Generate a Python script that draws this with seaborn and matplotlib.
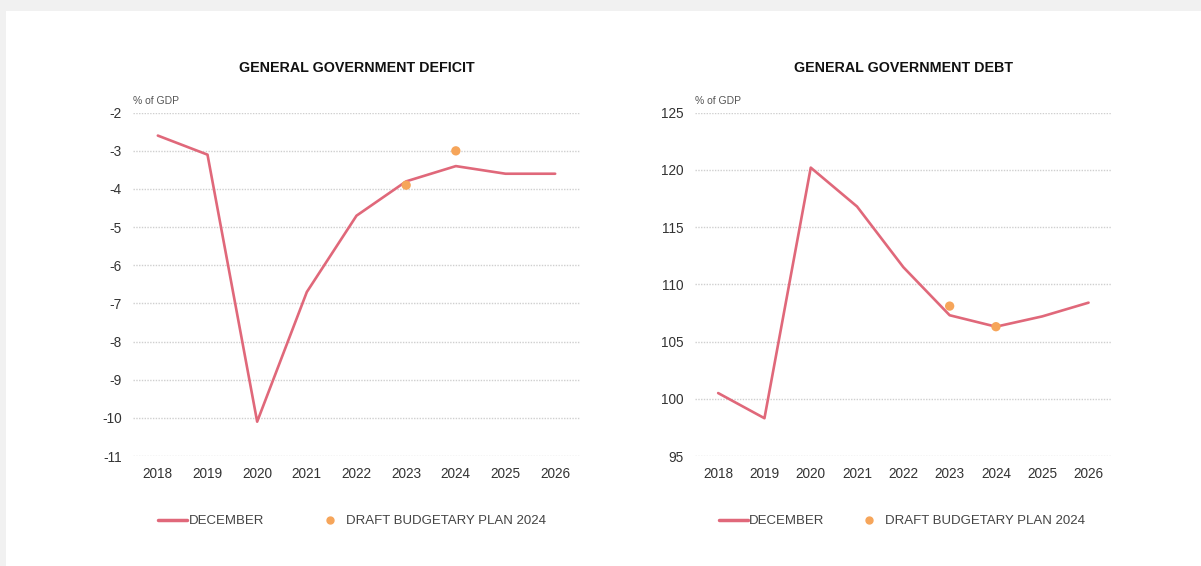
import numpy as np
import pandas as pd
import seaborn as sns
import matplotlib.pyplot as plt
from matplotlib.patches import Rectangle
from matplotlib.lines import Line2D

# data
years = [2018, 2019, 2020, 2021, 2022, 2023, 2024, 2025, 2026]
deficit_dec = [-2.6, -3.1, -10.1, -6.7, -4.7, -3.8, -3.4, -3.6, -3.6]
debt_dec = [100.5, 98.3, 120.2, 116.8, 111.5, 107.3, 106.3, 107.2, 108.4]
dbp_years = [2023, 2024]
deficit_dbp = [-3.9, -3.0]
debt_dbp = [108.1, 106.3]

deficit_ticks = [-2, -3, -4, -5, -6, -7, -8, -9, -10, -11]
debt_ticks = [95, 100, 105, 110, 115, 120, 125]

LINE_COL = "#e0687a"
DOT_COL = "#f6a55a"

sns.set_style("white")
plt.rcParams['font.family'] = ['Liberation Sans', 'DejaVu Sans']
plt.rcParams['axes.unicode_minus'] = False

fig = plt.figure(figsize=(12.01, 5.66), dpi=100)
fig.patch.set_facecolor("#f1f1f1")
# white card behind the charts
fig.patches.append(Rectangle((6 / 1201, 0), 1, 1 - 11 / 566, transform=fig.transFigure,
                             facecolor="white", edgecolor="none", zorder=-10))

ax1 = fig.add_axes([133 / 1201, 1 - 456 / 566, 447 / 1201, 343.3 / 566])
ax2 = fig.add_axes([695 / 1201, 1 - 456 / 566, 416.7 / 1201, 343.3 / 566])


def draw(ax, title, line_vals, dot_vals, ticks, ylim, colspace, leg_x):
    ax.set_facecolor("none")
    ax.set_zorder(5)
    df = pd.DataFrame({"year": years, "val": line_vals})
    dd = pd.DataFrame({"year": dbp_years, "val": dot_vals})
    sns.lineplot(data=df, x="year", y="val", ax=ax, color=LINE_COL, linewidth=1.9, zorder=3)
    sns.scatterplot(data=dd, x="year", y="val", ax=ax, color=DOT_COL, s=45,
                    edgecolor="none", zorder=4)
    ax.set_xlim(2017.5, 2026.5)
    ax.set_ylim(*ylim)
    ax.set_yticks(ticks)
    ax.set_xticks(years)
    ax.set_xticklabels([str(y) for y in years])
    ax.yaxis.grid(True, linestyle=(0, (1, 1)), color="#cfcfcf", linewidth=1.0)
    ax.xaxis.grid(False)
    for s in ax.spines.values():
        s.set_visible(False)
    ax.tick_params(axis="both", length=0, labelsize=9.8, labelcolor="#333333")
    ax.tick_params(axis="y", pad=8)
    ax.tick_params(axis="x", pad=8)
    ax.set_xlabel("")
    ax.set_ylabel("")
    ax.set_title(title, fontsize=10.3, fontweight="bold", color="#111111", pad=29.5)
    ax.text(0, 1.02, "% of GDP", transform=ax.transAxes, fontsize=7.5,
            color="#555555", ha="left", va="bottom")
    handles = [Line2D([], [], color=LINE_COL, linewidth=2.5),
               Line2D([], [], color=DOT_COL, marker="o", linestyle="none", markersize=5)]
    ax.legend(handles, ["DECEMBER", "DRAFT BUDGETARY PLAN 2024"], loc="center",
              bbox_to_anchor=(leg_x, -0.19), ncol=2, frameon=False, fontsize=9.5,
              handlelength=2.2, handletextpad=0.1, columnspacing=colspace,
              labelcolor="#444444")


draw(ax1, "GENERAL GOVERNMENT DEFICIT", deficit_dec, deficit_dbp, deficit_ticks,
     (-11, -2), 3.9, 0.49)
draw(ax2, "GENERAL GOVERNMENT DEBT", debt_dec, debt_dbp, debt_ticks,
     (95, 125), 2.3, 0.497)

fig.savefig("out.png", dpi=100, facecolor=fig.get_facecolor())
